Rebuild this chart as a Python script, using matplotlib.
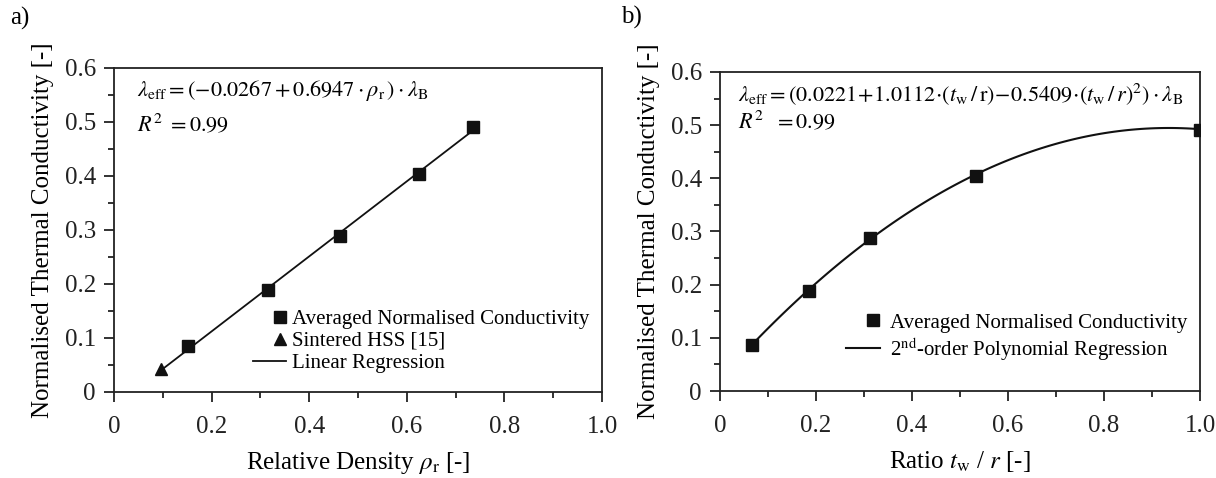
import matplotlib
matplotlib.use("Agg")
import matplotlib.pyplot as plt
from matplotlib.ticker import MultipleLocator
from matplotlib.legend_handler import HandlerLine2D
import numpy as np

plt.rcParams["font.family"] = ["Liberation Serif", "DejaVu Serif"]
plt.rcParams["mathtext.fontset"] = "stix"

# panel a: relative density vs normalised conductivity
density = [0.151, 0.315, 0.4625, 0.624, 0.7355]
cond_a = [0.085, 0.188, 0.289, 0.404, 0.491]
hss_density = [0.0965]
hss_cond = [0.043]
lin_coef = [-0.0267, 0.6947]          # intercept, slope (from chart)

# panel b: ratio t_w / r vs normalised conductivity
ratio = [0.0657, 0.185, 0.312, 0.533, 1.0]
cond_b = [0.086, 0.1875, 0.2885, 0.4045, 0.4915]
poly_coef = [0.0221, 1.0112, -0.5409]  # c0, c1, c2 (from chart)

W, H = 1216, 478
fig = plt.figure(figsize=(W / 100, H / 100), dpi=100)
ax_a = fig.add_axes([114 / W, 1 - 392 / H, 488 / W, 324 / H])
ax_b = fig.add_axes([720 / W, 1 - 391 / H, 480 / W, 319 / H])


class RightMarker(HandlerLine2D):
    # single legend marker sits near the right end of the handle, like in the original
    def get_xdata(self, legend, xdescent, ydescent, width, height, fontsize):
        xdata = np.array([0.62 * width - xdescent, width - xdescent])
        return xdata, np.array([0.81 * width - xdescent])


def style_axes(ax):
    ax.set_xlim(0, 1.0)
    ax.set_ylim(0, 0.6)
    ax.xaxis.set_major_locator(MultipleLocator(0.2))
    ax.xaxis.set_minor_locator(MultipleLocator(0.1))
    ax.yaxis.set_major_locator(MultipleLocator(0.1))
    ax.yaxis.set_minor_locator(MultipleLocator(0.05))
    ax.xaxis.set_major_formatter(lambda v, p: "0" if v == 0 else f"{v:.1f}")
    ax.yaxis.set_major_formatter(lambda v, p: "0" if v == 0 else f"{v:.1f}")
    ax.tick_params(which="both", direction="out", top=False, right=False,
                   width=1.3, labelsize=18, colors="#222222")
    ax.tick_params(which="major", length=7)
    ax.tick_params(axis="x", which="major", pad=10)
    ax.tick_params(axis="y", which="major", pad=6)
    ax.tick_params(which="minor", length=4)
    for s in ax.spines.values():
        s.set_linewidth(1.3)
        s.set_color("#222222")
    ax.set_ylabel("Normalised Thermal Conductivity [-]", fontsize=18, labelpad=8)


# ---- panel a
style_axes(ax_a)
xs = np.linspace(hss_density[0], density[-1], 50)
line_a, = ax_a.plot(xs, lin_coef[0] + lin_coef[1] * xs, color="#111111", lw=1.3,
                    label="Linear Regression", zorder=2)
sq_a, = ax_a.plot(density, cond_a, "s", color="#111111", ms=8,
                  label="Averaged Normalised Conductivity", zorder=3)
tri_a, = ax_a.plot(hss_density, hss_cond, "^", color="#111111", ms=8,
                   label="Sintered HSS [15]", zorder=3)
ax_a.legend([sq_a, tri_a, line_a], [sq_a.get_label(), tri_a.get_label(), line_a.get_label()],
            loc="lower right", bbox_to_anchor=(1.0, 0.02), frameon=False, fontsize=15,
            handlelength=1.6, handletextpad=0.3, labelspacing=0.12, borderaxespad=0.2,
            handler_map={sq_a: RightMarker(), tri_a: RightMarker()})
ax_a.text(0.047, 0.93, r"$\lambda_\mathrm{eff} = (-0.0267 + 0.6947\cdot\rho_\mathrm{r}\,)\cdot\lambda_\mathrm{B}$",
          transform=ax_a.transAxes, fontsize=16, va="center")
ax_a.text(0.047, 0.825, r"$R^2\ = 0.99$", transform=ax_a.transAxes,
          fontsize=16, va="center")
ax_a.set_xlabel(r"Relative Density $\rho_\mathrm{r}$ [-]", fontsize=18, labelpad=9)

# ---- panel b
style_axes(ax_b)
xb = np.linspace(ratio[0], ratio[-1], 100)
sq_b, = ax_b.plot(ratio, cond_b, "s", color="#111111", ms=8,
                  label="Averaged Normalised Conductivity", zorder=3)
ax_b.plot(xb, poly_coef[0] + poly_coef[1] * xb + poly_coef[2] * xb ** 2,
          color="#111111", lw=1.5, label=r"2$^\mathrm{nd}$-order Polynomial Regression",
          zorder=2)
ax_b.legend(loc="lower right", bbox_to_anchor=(1.0, 0.05), frameon=False,
            fontsize=15, handlelength=1.6, handletextpad=0.5, labelspacing=0.12,
            borderaxespad=0.2, handler_map={sq_b: RightMarker()})
ax_b.text(0.0375, 0.93,
          r"$\lambda_\mathrm{eff} = (0.0221\!+\!1.0112\!\cdot\!(t_\mathrm{w}\,/\,\mathrm{r})\!-\!0.5409\!\cdot\!(t_\mathrm{w}\,/\,r)^2)\cdot\lambda_\mathrm{B}$",
          transform=ax_b.transAxes, fontsize=16, va="center")
ax_b.text(0.0375, 0.845, r"$R^2\ \ = 0.99$", transform=ax_b.transAxes,
          fontsize=16, va="center")
ax_b.set_xlabel(r"Ratio $t_\mathrm{w}$ / $r$ [-]", fontsize=18, labelpad=9)

fig.text(20 / W, 1 - 18 / H, "a)", fontsize=18, va="center", ha="center")
fig.text(631 / W, 1 - 17 / H, "b)", fontsize=18, va="center", ha="center")

fig.savefig("out.png", dpi=100, facecolor="white")
